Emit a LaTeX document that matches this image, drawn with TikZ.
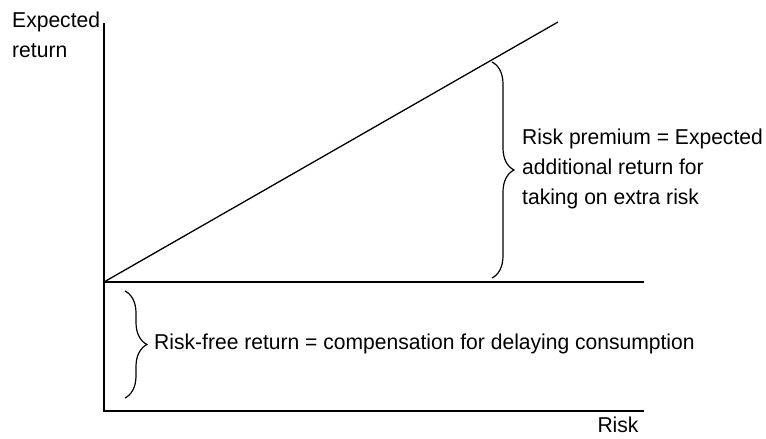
\documentclass[tikz,border=0pt]{standalone}
\usepackage{fontspec}
\setmainfont{Liberation Sans}[FakeStretch=0.98]
\usetikzlibrary{decorations.pathreplacing}
\begin{document}
\begin{tikzpicture}[x=1pt,y=1pt,
  axisline/.style={line width=1.3pt, black},
  curlybrace/.style={decorate, decoration={brace, amplitude=#1}, line width=1.2pt},
  lbl/.style={inner sep=0pt, font=\fontsize{21.5}{30}\selectfont, align=left}]
  \useasboundingbox (0,0) rectangle (766,439);
  % axes and reference lines
  \coordinate (ytop) at (104,416);
  \coordinate (origin) at (104,28);
  \coordinate (xend) at (644,28);
  \coordinate (rf) at (104,157);
  \coordinate (rfend) at (644,157);
  \coordinate (sml) at (558,417);
  \draw[axisline] (ytop) -- (origin) -- (xend);
  \draw[axisline] (rf) -- (rfend);
  \draw[axisline] (rf) -- (sml);
  % braces
  \coordinate (rpTop) at (492,377);
  \coordinate (rpBot) at (492,161);
  \coordinate (rfTop) at (125,148);
  \coordinate (rfBot) at (125,41);
  \draw[curlybrace=22pt] (rpTop) -- (rpBot);
  \draw[curlybrace=22pt] (rfTop) -- (rfBot);
  % labels
  \node[lbl, anchor=north west] (ylab) at (12,427) {Expected\\return};
  \node[lbl, anchor=west] (rplab) at (522,270) {Risk premium = Expected\\additional return for\\taking on extra risk};
  \node[lbl, anchor=west] (rflab) at (154,95) {Risk-free return = compensation for delaying consumption};
  \node[lbl] (xlab) at (618,14) {Risk};
\end{tikzpicture}
\end{document}
